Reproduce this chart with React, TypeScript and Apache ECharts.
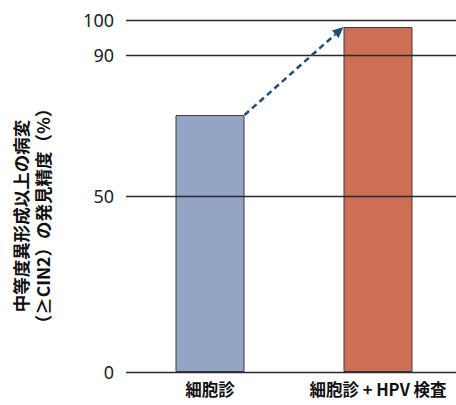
import React, { useEffect, useRef } from "react";
import * as echarts from "echarts";

const categories = ["細胞診", "細胞診 + HPV 検査"];
const values = [73, 98];
const barColors = ["#94a4c4", "#cd6e55"];
const yTicks = [0, 50, 90, 100];
const yTitleLines = ["中等度異形成以上の病変", "（≥CIN2）の発見精度（%）"];

const BAR_WIDTH = 69;

export default function App() {
  const ref = useRef<HTMLDivElement>(null);
  useEffect(() => {
    if (!ref.current) return;
    const chart = echarts.init(ref.current, null, { renderer: "svg" });
    chart.setOption({
      animation: false,
      backgroundColor: "#ffffff",
      grid: { left: 126, top: 20, width: 336, height: 352 },
      xAxis: {
        type: "category",
        data: categories,
        axisLine: { show: false },
        axisTick: { show: false },
        axisLabel: {
          interval: 0,
          hideOverlap: false,
          margin: 9,
          fontSize: 16.5,
          fontWeight: "bold",
          color: "#111",
          fontFamily: "Noto Sans CJK JP",
        },
      },
      yAxis: {
        type: "value",
        min: 0,
        max: 100,
        z: 10,
        axisLine: { show: false },
        axisTick: { show: false, customValues: yTicks },
        axisLabel: {
          customValues: yTicks,
          margin: 12,
          fontSize: 18,
          color: "#222",
          fontFamily: "Noto Sans",
        },
        splitLine: { show: true, lineStyle: { color: "#2a2a2a", width: 1.3 } },
      },
      series: [
        {
          type: "bar",
          barWidth: BAR_WIDTH,
          data: values.map((v, i) => ({
            value: v,
            itemStyle: { color: barColors[i], borderColor: "#3c3c3c", borderWidth: 1 },
          })),
        },
      ],
    });

    const p0 = chart.convertToPixel({ xAxisIndex: 0, yAxisIndex: 0 }, [0, values[0]]) as number[];
    const p1 = chart.convertToPixel({ xAxisIndex: 0, yAxisIndex: 0 }, [1, values[1]]) as number[];
    const sx = p0[0] + BAR_WIDTH / 2;
    const sy = p0[1];
    const ex = p1[0] - BAR_WIDTH / 2;
    const ey = p1[1];
    const dx = ex - sx;
    const dy = ey - sy;
    const len = Math.sqrt(dx * dx + dy * dy);
    const ux = dx / len;
    const uy = dy / len;
    const headLen = 11;
    const headHalf = 5;
    const bx = ex - ux * headLen;
    const by = ey - uy * headLen;
    const nx = -uy;
    const ny = ux;
    const arrowColor = "#1f4e7a";

    chart.setOption({
      graphic: [
        {
          type: "line",
          z: 20,
          shape: { x1: sx, y1: sy, x2: bx, y2: by },
          style: { stroke: arrowColor, lineWidth: 2.5, lineDash: [6, 4] },
        },
        {
          type: "polygon",
          z: 20,
          shape: {
            points: [
              [ex, ey],
              [bx + nx * headHalf, by + ny * headHalf],
              [bx - nx * headHalf, by - ny * headHalf],
            ],
          },
          style: { fill: arrowColor },
        },
        {
          type: "text",
          x: 31,
          y: 216,
          rotation: Math.PI / 2,
          style: {
            text: yTitleLines.join("\n"),
            fontSize: 17.5,
            lineHeight: 22,
            fontWeight: "bold",
            fontFamily: "Noto Sans CJK JP",
            fill: "#111",
            align: "center",
            verticalAlign: "middle",
          },
        },
      ],
    });

    return () => chart.dispose();
  }, []);
  return (
    <div style={{ position: "absolute", left: 0, top: 0, width: 456, height: 405, overflow: "hidden" }}>
      <div ref={ref} style={{ width: 470, height: 405 }} />
    </div>
  );
}
